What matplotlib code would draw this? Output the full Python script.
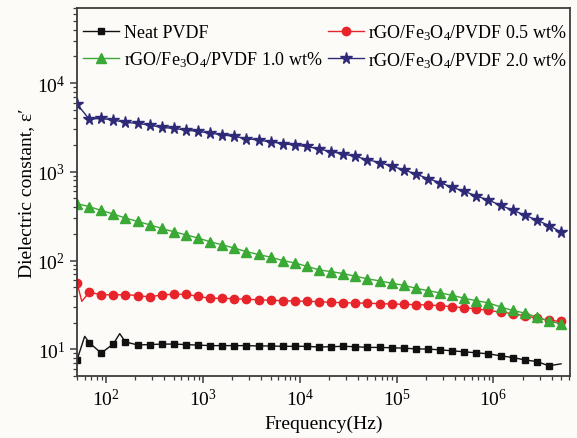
import numpy as np
import matplotlib
matplotlib.use("Agg")
import matplotlib.pyplot as plt

# -----------------------------
# DATA
# -----------------------------
freq = [50, 66.7, 88.9, 118.6, 158.1, 210.8, 281.2, 374.9,
        500, 667, 889, 1186, 1581, 2108, 2812, 3749,
        5e3, 6.67e3, 8.89e3, 1.186e4, 1.581e4, 2.108e4, 2.812e4, 3.749e4,
        5e4, 6.67e4, 8.89e4, 1.186e5, 1.581e5, 2.108e5, 2.812e5, 3.749e5,
        5e5, 6.67e5, 8.89e5, 1.186e6, 1.581e6, 2.108e6, 2.812e6, 3.749e6, 5e6]

neat = [7.6, 11.9, 9.06, 11.5, 12.1, 11.2, 11.3, 11.45, 11.45, 11.3,
        11.15, 11.0, 11.0, 11.0, 11.0, 10.9, 10.9, 10.8, 10.8, 10.8,
        10.6, 10.7, 10.8, 10.7, 10.5, 10.5, 10.4, 10.3, 10.1, 10.05,
        9.87, 9.61, 9.37, 9.13, 8.89, 8.45, 8.08, 7.6, 7.28, 6.51, 6.86]

wt05 = [56, 43.8, 41.3, 41, 41.3, 40.3, 38.9, 41, 41.6, 41.6,
        39.5, 37.5, 37.5, 37.2, 36.5, 36.2, 35.6, 35.3, 35.0, 34.7,
        34.4, 33.8, 33.5, 33.3, 33.0, 32.7, 32.4, 32.1, 31.8, 31.6,
        31.0, 30.2, 29.4, 28.5, 27.4, 26.3, 25.2, 23.9, 22.5, 21.2, 20.6]

wt10 = [437, 405, 367, 334, 301, 276, 253, 230, 211, 195,
        179, 163, 150, 138, 126, 117, 109, 100, 94, 86,
        78.5, 75, 71.3, 66.5, 62.2, 59, 55.5, 52.6, 48.7, 45.8,
        43.2, 40.6, 37.5, 35.3, 33.3, 30, 27.4, 25.6, 23.1, 20.8, 19.4]

wt20 = [5800, 3920, 3990, 3820, 3600, 3510, 3350, 3160, 3080, 2940,
        2850, 2720, 2610, 2500, 2370, 2270, 2170, 2080, 1990, 1930,
        1800, 1690, 1580, 1490, 1370, 1270, 1160, 1050, 945, 838,
        755, 668, 603, 533, 481, 418, 370, 325, 285, 248, 209]

# extra line-only points (wiggles between markers at low frequency)
neat_extra_f = [60, 138]
neat_extra_v = [14.0, 15.0]
wt05_extra_f = [56]
wt05_extra_v = [34.7]

labels = ["Neat PVDF",
          r"rGO/Fe$_3$O$_4$/PVDF 0.5 wt%",
          r"rGO/Fe$_3$O$_4$/PVDF 1.0 wt%",
          r"rGO/Fe$_3$O$_4$/PVDF 2.0 wt%"]

# -----------------------------
# STYLE
# -----------------------------
plt.rcParams["font.family"] = ["Liberation Serif", "DejaVu Serif"]
plt.rcParams["mathtext.fontset"] = "custom"
plt.rcParams["mathtext.rm"] = "Liberation Serif"
plt.rcParams["mathtext.it"] = "Liberation Serif:italic"
plt.rcParams["mathtext.bf"] = "Liberation Serif:bold"

BG = "#fcfbf8"
FRAME = "#3c3c3c"


def merge(f, v, ef, ev):
    # add the line-only points, markers stay on the measured ones
    allf = np.concatenate([f, ef])
    allv = np.concatenate([v, ev])
    order = np.argsort(allf)
    allf = allf[order]
    allv = allv[order]
    mark = np.isin(allf, f)
    return allf, allv, mark


fig = plt.figure(figsize=(5.77, 4.39), dpi=100, facecolor=BG)
ax = fig.add_axes([0.1335, 0.1412, 0.8545, 0.8383], facecolor=BG)

f0, v0, m0 = merge(freq, neat, neat_extra_f, neat_extra_v)
m0[-1] = False  # last sample is line only
f1, v1, m1 = merge(freq, wt05, wt05_extra_f, wt05_extra_v)

h_neat, = ax.plot(f0, v0, color="#111111", lw=1.0, marker="s", ms=5,
                  markevery=list(m0), label=labels[0])
h_05, = ax.plot(f1, v1, color="#e8242b", lw=1.0, marker="o", ms=6,
                markevery=list(m1), label=labels[1])
h_10, = ax.plot(freq, wt10, color="#3aa935", lw=1.0, marker="^", ms=6.5,
                label=labels[2])
h_20, = ax.plot(freq, wt20, color="#2e2a78", lw=1.0, marker="*", ms=8.5,
                label=labels[3])

ax.set_xscale("log")
ax.set_yscale("log")
ax.set_xlim(50, 6.2e6)
ax.set_ylim(5, 7e4)

for side in ["left", "bottom", "top", "right"]:
    ax.spines[side].set_color(FRAME)
    ax.spines[side].set_linewidth(1.3)

ax.tick_params(which="both", direction="out", top=False, right=False,
               color=FRAME, labelsize=14)
ax.tick_params(which="major", length=5, width=1.1)
ax.tick_params(which="minor", length=3, width=0.9)

ax.set_xlabel("Frequency(Hz)", fontsize=14, labelpad=4)
ax.set_ylabel("Dielectric constant, ε′", fontsize=14, labelpad=1)

ax.legend(handles=[h_neat, h_10, h_05, h_20], ncol=2, loc="upper left",
          bbox_to_anchor=(0.012, 0.962), frameon=False, fontsize=13,
          handlelength=2.0, handletextpad=0.25, columnspacing=0.3,
          labelspacing=0.45, borderpad=0, borderaxespad=0)

fig.savefig("out.png", dpi=100, facecolor=BG)
